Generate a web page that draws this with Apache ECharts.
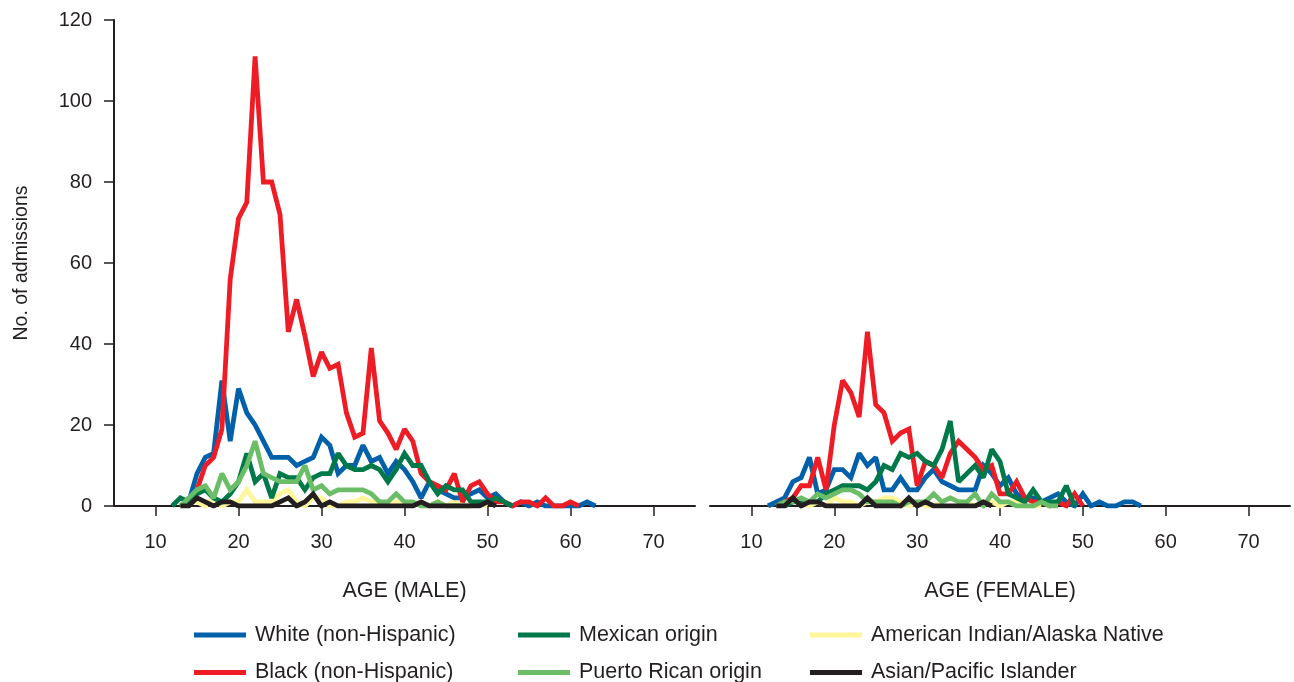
<!DOCTYPE html>
<html>
<head>
<meta charset="utf-8">
<script src="https://cdn.jsdelivr.net/npm/echarts@6/dist/echarts.min.js"></script>
<style>
html,body{margin:0;padding:0;background:#fff;}
#chart{width:1294px;height:682px;}
</style>
</head>
<body>
<div id="chart"></div>
<script>
// ---------- DATA ----------
const seriesNames = ['White (non-Hispanic)', 'Black (non-Hispanic)', 'Mexican origin', 'Puerto Rican origin', 'American Indian/Alaska Native', 'Asian/Pacific Islander'];
const seriesColors = ['#0060aa', '#ee1c25', '#00794a', '#6cbd68', '#fff59a', '#231f20'];
const xTicks = [10, 20, 30, 40, 50, 60, 70];
const yTicks = [0, 20, 40, 60, 80, 100, 120];

// Male, ages 12..63
const maleAges = [12,13,14,15,16,17,18,19,20,21,22,23,24,25,26,27,28,29,30,31,32,33,34,35,36,37,38,39,40,41,42,43,44,45,46,47,48,49,50,51,52,53,54,55,56,57,58,59,60,61,62,63];
const maleWhite    = [null,null,1,8,12,13,31,16,29,23,20,16,12,12,12,10,11,12,17,15,8,10,10,15,11,12,8,11,9,6,2,6,4,3,2,2,3,4,2,3,1,0,1,0,1,0,0,0,0,0,1,0];
const maleBlack    = [null,null,0,4,10,12,19,56,71,75,111,80,80,72,43,51,42,32,38,34,35,23,17,18,39,21,18,14,19,16,8,6,5,4,8,1,5,6,3,1,1,0,1,1,0,2,0,0,1,0,null,null];
const maleMexican  = [0,2,1,3,4,2,1,3,6,13,6,8,2,8,7,7,4,7,8,8,13,10,9,9,10,9,6,9,13,10,10,6,3,5,4,4,1,1,1,2,1,0,null,null,null,null,null,null,null,null,null,null];
const malePuerto   = [null,0,2,4,5,2,8,4,6,10,16,8,7,6,6,6,10,4,5,3,4,4,4,4,3,1,1,3,1,1,0,0,1,0,0,0,0,null,null,null,null,null,null,null,null,null,null,null,null,null,null,null];
const maleAmerInd  = [null,0,1,1,0,2,0,1,1,4,1,1,1,3,4,1,0,2,2,0,0,1,1,2,1,1,0,1,1,0,1,0,1,0,1,0,0,1,0,null,null,null,null,null,null,null,null,null,null,null,null,null];
const maleAsian    = [null,0,0,2,1,0,1,1,0,0,0,0,0,1,2,0,1,3,0,1,0,0,0,0,0,0,0,0,0,0,1,0,0,0,0,0,0,0,1,0,null,null,null,null,null,null,null,null,null,null,null,null];

// Female, ages 12..57
const femaleAges = [12,13,14,15,16,17,18,19,20,21,22,23,24,25,26,27,28,29,30,31,32,33,34,35,36,37,38,39,40,41,42,43,44,45,46,47,48,49,50,51,52,53,54,55,56,57];
const femaleWhite   = [0,1,2,6,7,12,3,4,9,9,7,13,10,12,4,4,7,4,4,7,9,6,5,4,4,4,10,8,5,7,3,2,2,1,2,3,1,0,3,0,1,0,0,1,1,0];
const femaleBlack   = [null,0,1,2,5,5,12,4,20,31,28,22,43,25,23,16,18,19,5,11,10,7,13,16,14,12,9,10,3,3,6,2,1,1,0,1,0,3,0,null,null,null,null,null,null,null];
const femaleMexican = [null,null,0,1,1,1,1,3,4,5,5,5,4,6,10,9,13,12,13,11,10,14,21,6,8,10,7,14,11,3,2,1,4,1,1,1,5,0,null,null,null,null,null,null,null,null];
const femalePuerto  = [null,0,1,1,2,1,3,2,3,4,4,3,1,1,1,1,0,1,1,1,3,1,2,1,1,3,0,3,1,1,0,0,0,1,0,0,null,null,null,null,null,null,null,null,null,null];
const femaleAmerInd = [0,1,1,2,1,0,1,0,2,1,1,0,1,1,2,2,1,0,1,0,0,1,2,1,1,0,1,1,0,1,1,0,0,0,null,null,null,null,null,null,null,null,null,null,null,null];
const femaleAsian   = [null,0,0,2,0,1,1,0,0,0,0,0,2,0,0,0,0,2,0,1,0,0,0,0,0,0,1,0,null,null,null,null,null,null,null,null,null,null,null,null,null,null,null,null,null,null];

// ---------- BUILD ----------
const maleSets = [maleWhite, maleBlack, maleMexican, malePuerto, maleAmerInd, maleAsian];
const femaleSets = [femaleWhite, femaleBlack, femaleMexican, femalePuerto, femaleAmerInd, femaleAsian];
const zOrder = [3, 4, 5, 6, 2, 7];

function pairs(ages, vals) {
  const out = [];
  ages.forEach((a, i) => { if (vals[i] !== null && vals[i] !== undefined) out.push([a, vals[i]]); });
  return out;
}

const txt = '#231f20';
const fontFam = '"Liberation Sans", Arial, Helvetica, sans-serif';

const series = [];
[maleSets, femaleSets].forEach((sets, g) => {
  const ages = g === 0 ? maleAges : femaleAges;
  sets.forEach((vals, i) => {
    series.push({
      name: seriesNames[i],
      type: 'line',
      xAxisIndex: g,
      yAxisIndex: g,
      data: pairs(ages, vals),
      symbol: 'none',
      color: seriesColors[i],
      lineStyle: { width: 4.8, color: seriesColors[i], join: 'miter', miterLimit: 2 },
      z: zOrder[i],
      animation: false
    });
  });
});

function xAxisDef(gridIndex, name) {
  return {
    type: 'value', gridIndex: gridIndex, min: 5, max: 75,
    name: name, nameLocation: 'middle', nameGap: 74,
    nameTextStyle: { color: txt, fontSize: 21.5, fontFamily: fontFam },
    axisLine: { show: true, lineStyle: { color: txt, width: 2 } },
    axisTick: { show: true, length: 10, customValues: xTicks, lineStyle: { color: txt, width: 1.5 } },
    axisLabel: { show: true, customValues: xTicks, margin: 26, color: txt, fontSize: 20, fontFamily: fontFam },
    splitLine: { show: false }
  };
}

const legendCols = [[0, 1], [2, 3], [4, 5]];
const legendLefts = [194, 518, 810];
const legends = legendCols.map((idx, c) => ({
  data: idx.map(i => seriesNames[i]),
  orient: 'vertical',
  left: legendLefts[c],
  top: 624,
  height: 80,
  width: 420,
  padding: 0,
  itemGap: 15.5,
  itemWidth: 52,
  itemHeight: 5,
  icon: 'rect',
  selectedMode: false,
  textStyle: { color: txt, fontSize: 21.5, fontFamily: fontFam, padding: [0, 0, 0, 4] }
}));

const option = {
  backgroundColor: '#fff',
  animation: false,
  grid: [
    { left: 114, top: 20, width: 581, height: 486 },
    { left: 710, top: 20, width: 580, height: 486 }
  ],
  xAxis: [xAxisDef(0, 'AGE (MALE)'), xAxisDef(1, 'AGE (FEMALE)')],
  yAxis: [
    {
      type: 'value', gridIndex: 0, min: 0, max: 120, interval: 20,
      name: 'No. of admissions', nameLocation: 'middle', nameGap: 82,
      nameTextStyle: { color: txt, fontSize: 19.5, fontFamily: fontFam },
      axisLine: { show: true, lineStyle: { color: txt, width: 2 } },
      axisTick: { show: true, length: 10, lineStyle: { color: txt, width: 1.5 } },
      axisLabel: { margin: 22, color: txt, fontSize: 20, fontFamily: fontFam },
      splitLine: { show: false }
    },
    {
      type: 'value', gridIndex: 1, min: 0, max: 120, interval: 20, show: false,
      splitLine: { show: false }
    }
  ],
  legend: legends,
  series: series
};

const chart = echarts.init(document.getElementById('chart'), null, { renderer: 'canvas' });
chart.setOption(option);
</script>
</body>
</html>
